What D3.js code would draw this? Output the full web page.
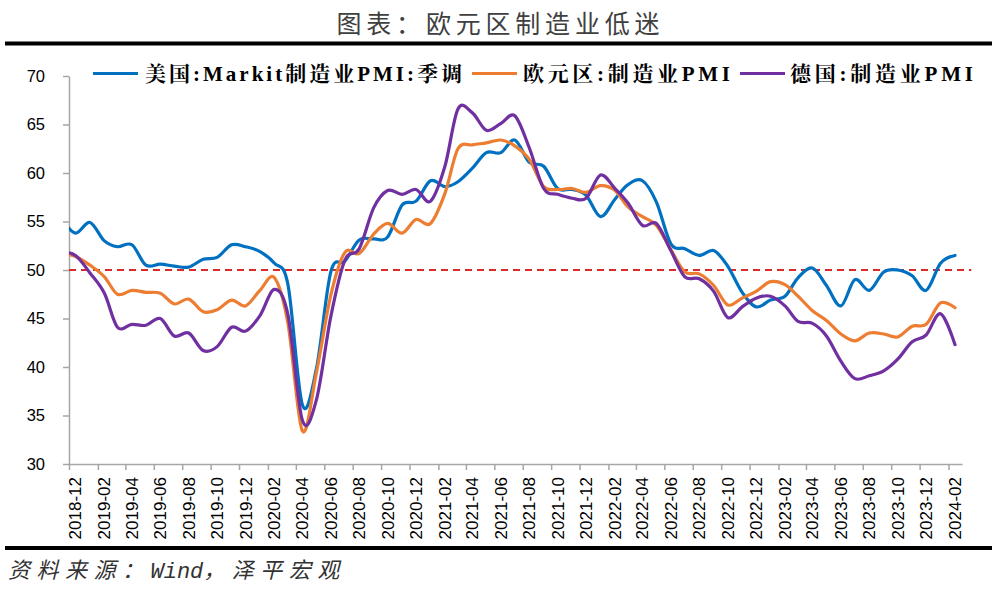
<!DOCTYPE html>
<html><head><meta charset="utf-8">
<script src="https://cdn.jsdelivr.net/npm/d3@7"></script>
<style>body{margin:0;background:#fff}svg{display:block}</style>
</head><body><svg id="c" width="1000" height="590"></svg>
<script>
// ---------- data ----------
const months = [
 "2018-11","2018-12",
 "2019-01","2019-02","2019-03","2019-04","2019-05","2019-06","2019-07","2019-08","2019-09","2019-10","2019-11","2019-12",
 "2020-01","2020-02","2020-03","2020-04","2020-05","2020-06","2020-07","2020-08","2020-09","2020-10","2020-11","2020-12",
 "2021-01","2021-02","2021-03","2021-04","2021-05","2021-06","2021-07","2021-08","2021-09","2021-10","2021-11","2021-12",
 "2022-01","2022-02","2022-03","2022-04","2022-05","2022-06","2022-07","2022-08","2022-09","2022-10","2022-11","2022-12",
 "2023-01","2023-02","2023-03","2023-04","2023-05","2023-06","2023-07","2023-08","2023-09","2023-10","2023-11","2023-12",
 "2024-01","2024-02"];
const usPMI = [55.3,53.8,
 54.9,53.0,52.4,52.6,50.5,50.6,50.4,50.3,51.1,51.3,52.6,52.4,
 51.9,50.7,48.5,36.1,39.8,49.8,50.9,53.1,53.2,53.4,56.7,57.1,
 59.2,58.6,59.1,60.5,62.1,62.1,63.4,61.1,60.7,58.4,58.3,57.7,
 55.5,57.3,58.8,59.2,57.0,52.7,52.2,51.5,52.0,50.4,47.7,46.2,
 46.9,47.3,49.2,50.2,48.4,46.3,49.0,47.9,49.8,50.0,49.4,47.9,
 50.7,51.5];
const ezPMI = [51.8,51.4,
 50.5,49.3,47.5,47.9,47.7,47.6,46.5,47.0,45.7,45.9,46.9,46.3,
 47.9,49.2,44.5,33.4,39.4,47.4,51.8,51.7,53.7,54.8,53.8,55.2,
 54.8,57.9,62.5,62.9,63.1,63.4,62.8,61.4,58.6,58.3,58.4,58.0,
 58.7,58.2,56.5,55.5,54.6,52.1,49.8,49.6,48.4,46.4,47.1,47.8,
 48.8,48.5,47.3,45.8,44.8,43.4,42.7,43.5,43.4,43.1,44.2,44.4,
 46.6,46.1];
const dePMI = [51.8,51.5,
 49.7,47.6,44.1,44.4,44.3,45.0,43.2,43.5,41.7,42.1,44.1,43.7,
 45.3,48.0,45.4,34.5,36.6,45.2,51.0,52.2,56.4,58.2,57.8,58.3,
 57.1,60.7,66.6,66.2,64.4,65.1,65.9,62.6,58.4,57.8,57.4,57.4,
 59.8,58.4,56.9,54.6,54.8,52.0,49.3,49.1,47.8,45.1,46.2,47.1,
 47.3,46.3,44.7,44.5,43.2,40.6,38.8,39.1,39.6,40.8,42.6,43.3,
 45.5,42.3];
const seriesNames = ["美国:Markit制造业PMI:季调","欧元区:制造业PMI","德国:制造业PMI"];
const seriesColors = ["#0070C0","#ED7D31","#7030A0"];
const tickLabels = ["2018-12","2019-02","2019-04","2019-06","2019-08","2019-10","2019-12",
 "2020-02","2020-04","2020-06","2020-08","2020-10","2020-12",
 "2021-02","2021-04","2021-06","2021-08","2021-10","2021-12",
 "2022-02","2022-04","2022-06","2022-08","2022-10","2022-12",
 "2023-02","2023-04","2023-06","2023-08","2023-10","2023-12","2024-02"];
const axisEndMonth = "2024-03";
const yTicks = [30,35,40,45,50,55,60,65,70];
const refValue = 50;
const refSpan = ["2018-12-01","2024-03-21"];
const titleText = "图表：欧元区制造业低迷";
const sourceText = "资料来源：Wind，泽平宏观";

// ---------- helpers ----------
const svg = d3.select("#c");
const parseM = d3.timeParse("%Y-%m");
const parseD = d3.timeParse("%Y-%m-%d");
const mid = m => d3.timeDay.offset(parseM(m), 14);
const runs = s => s.match(/[\u3000-\u303f\u4e00-\u9fff\uff00-\uffef]+|[^\u3000-\u303f\u4e00-\u9fff\uff00-\uffef]+/g);
const isCJK = s => /[\u3000-\u303f\u4e00-\u9fff\uff00-\uffef]/.test(s);

// ---------- scales ----------
const x = d3.scaleTime().domain([parseM(tickLabels[0]), parseM(axisEndMonth)]).range([69, 962]);
const y = d3.scaleLinear().domain([30, 70]).range([464, 76]);

// ---------- title & rules ----------
svg.append("text").attr("x", 498).attr("y", 33).attr("text-anchor", "middle")
  .attr("font-family", "'Noto Sans CJK SC', sans-serif").attr("font-size", 25)
  .attr("textLength", 323).attr("lengthAdjust", "spacing")
  .attr("fill", "#404040").text(titleText);
svg.append("line").attr("x1", 5).attr("x2", 992).attr("y1", 43.5).attr("y2", 43.5)
  .attr("stroke", "#000").attr("stroke-width", 4);
svg.append("line").attr("x1", 5).attr("x2", 992).attr("y1", 548).attr("y2", 548)
  .attr("stroke", "#000").attr("stroke-width", 4);
const src = svg.append("text").attr("x", 8).attr("y", 578)
  .attr("font-size", 22).attr("font-style", "italic").attr("fill", "#333");
runs(sourceText).forEach(r => {
  src.append("tspan")
    .attr("font-family", isCJK(r) ? "'Noto Sans CJK SC', sans-serif" : "'Liberation Mono', monospace")
    .attr("letter-spacing", isCJK(r) ? 6.5 : 0).text(r);
});

// ---------- axes ----------
const axisColor = "#a6a6a6";
const gy = svg.append("g").attr("transform", `translate(${x.range()[0]},0)`)
  .call(d3.axisLeft(y).tickValues(yTicks).tickSize(6).tickSizeOuter(0).tickPadding(18));
gy.selectAll("path,line").attr("stroke", axisColor).attr("stroke-width", 1.5);
gy.selectAll("text").attr("font-family", "'Liberation Sans', Arial, sans-serif")
  .attr("font-size", 16.5).attr("fill", "#000");

const gx = svg.append("g").attr("transform", `translate(0,${y(30)})`)
  .call(d3.axisBottom(x).tickValues(tickLabels.map(parseM)).tickSize(6).tickSizeOuter(0).tickFormat(""));
gx.selectAll("path,line").attr("stroke", axisColor).attr("stroke-width", 1.5);
svg.append("g").selectAll("text").data(tickLabels).join("text")
  .attr("transform", d => `translate(${x(mid(d))},${y(30) + 13}) rotate(-90)`)
  .attr("text-anchor", "end").attr("dy", "0.35em")
  .attr("font-family", "'Liberation Sans', Arial, sans-serif").attr("font-size", 17)
  .attr("fill", "#000").text(d => d);

// ---------- reference line ----------
svg.append("line")
  .attr("x1", x(parseD(refSpan[0]))).attr("x2", x(parseD(refSpan[1])))
  .attr("y1", y(refValue)).attr("y2", y(refValue))
  .attr("stroke", "#DC2A2A").attr("stroke-width", 2).attr("stroke-dasharray", "7,5");

// ---------- series ----------
svg.append("clipPath").attr("id", "clip").append("rect")
  .attr("x", x.range()[0]).attr("y", 0).attr("width", 1000 - x.range()[0]).attr("height", 590);
const line = d3.line().x(d => x(mid(d.m))).y(d => y(d.v)).curve(d3.curveCatmullRom.alpha(0));
const allSeries = [usPMI, ezPMI, dePMI];
const gs = svg.append("g").attr("clip-path", "url(#clip)");
allSeries.forEach((vals, i) => {
  gs.append("path").datum(months.map((m, j) => ({m, v: vals[j]})))
    .attr("d", line).attr("fill", "none").attr("stroke", seriesColors[i])
    .attr("stroke-width", 3.2).attr("stroke-linejoin", "round").attr("stroke-linecap", "round");
});

// ---------- legend ----------
const legendLayout = [
  {x1: 93, x2: 138, tx: 145, w: 317},
  {x1: 472, x2: 517, tx: 523, w: 207},
  {x1: 740, x2: 785, tx: 790, w: 183}];
const lg = svg.append("g");
seriesNames.forEach((name, i) => {
  const L = legendLayout[i];
  lg.append("line").attr("x1", L.x1).attr("x2", L.x2).attr("y1", 73.5).attr("y2", 73.5)
    .attr("stroke", seriesColors[i]).attr("stroke-width", 3.2);
  const t = lg.append("text").attr("x", L.tx).attr("y", 81)
    .attr("font-weight", "bold").attr("font-size", 21)
    .attr("textLength", L.w).attr("lengthAdjust", "spacing").attr("fill", "#000");
  runs(name).forEach(r => {
    t.append("tspan")
      .attr("font-family", isCJK(r) ? "'Noto Serif CJK SC', 'Noto Sans CJK SC', serif" : "'Liberation Serif', 'Times New Roman', serif")
      .text(r);
  });
});
</script></body></html>
